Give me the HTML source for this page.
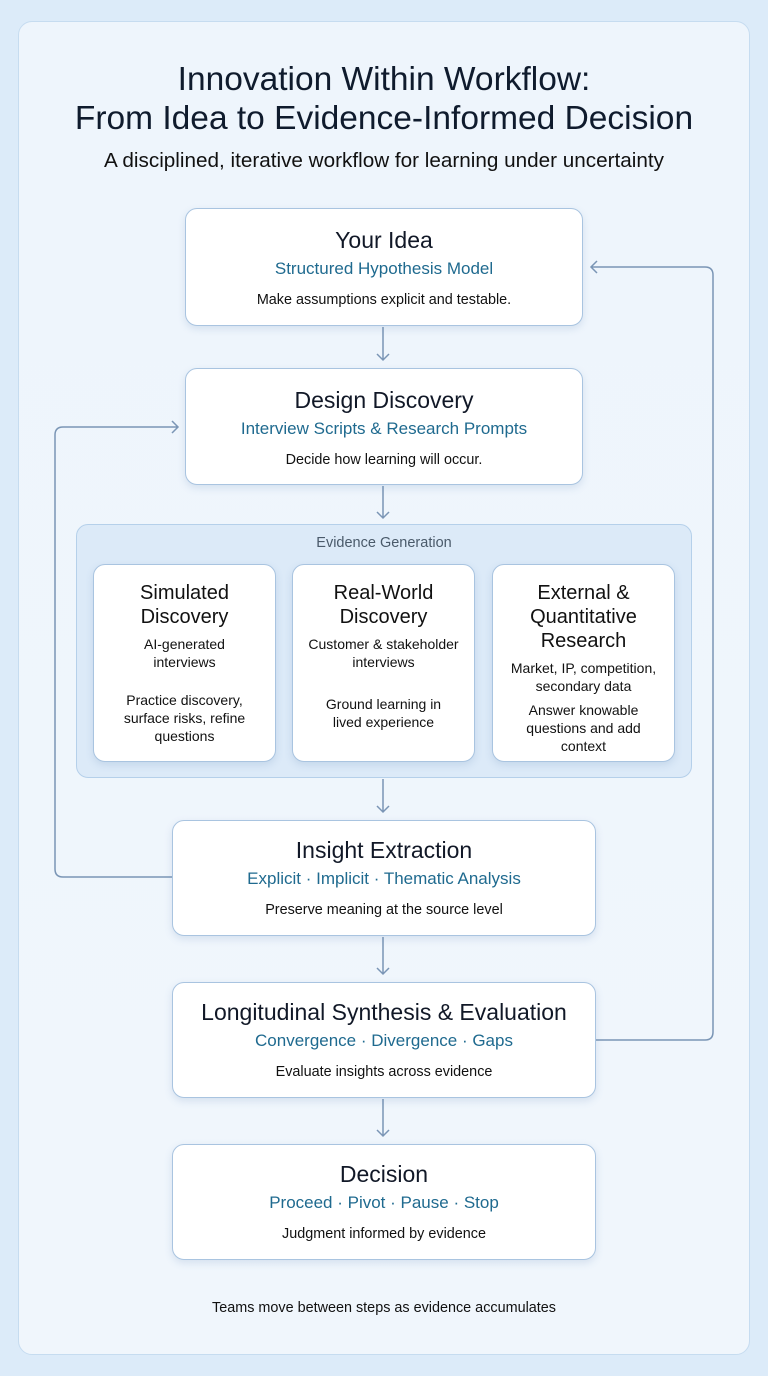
<!DOCTYPE html>
<html><head><meta charset="utf-8"><style>
*{margin:0;padding:0;box-sizing:border-box}
body{width:768px;height:1376px;background:#dcebf9;font-family:"Liberation Sans",sans-serif;position:relative;overflow:hidden;color:#111827}
.card{position:absolute;left:18px;top:21px;width:732px;height:1334px;border-radius:14px;background:linear-gradient(#eef5fc,#f0f6fc);border:1px solid #c6dcf0}
.t{position:absolute;left:0;width:768px;text-align:center}
.box{position:absolute;background:#fff;border:1.5px solid #a9c4e0;border-radius:12px;box-shadow:0 3px 8px rgba(90,130,180,.18);text-align:center}
.box h2{font-weight:normal;font-size:23px;line-height:26px;color:#111827}
.box .s{font-size:17px;color:#1f6a8f}
.box .d{font-size:14.4px;color:#111}
.sb h3{font-weight:normal;font-size:20px;line-height:24px;color:#111}
.sb p{font-size:14px;line-height:18px;color:#111}
</style></head><body>
<div class="card"></div>
<div class="t" style="top:60px;font-size:33.5px;line-height:39px;color:#0f1b2d">Innovation Within Workflow:<br>From Idea to Evidence-Informed Decision</div>
<div class="t" style="top:149px;font-size:20.7px;color:#111">A disciplined, iterative workflow for learning under uncertainty</div>

<div style="position:absolute;left:76px;top:524px;width:616px;height:254px;background:#dceaf8;border:1.5px solid #b5d0ea;border-radius:12px"></div>
<div class="t" style="top:535px;font-size:14.5px;color:#4a5a6a">Evidence Generation</div>

<svg width="768" height="1376" style="position:absolute;left:0;top:0" fill="none" stroke="#7a95b5" stroke-width="1.5">
<path d="M383 327V360M377 354l6 6 6-6"/>
<path d="M383 486V518M377 512l6 6 6-6"/>
<path d="M383 779V812M377 806l6 6 6-6"/>
<path d="M383 937V974M377 968l6 6 6-6"/>
<path d="M383 1099V1136M377 1130l6 6 6-6"/>
<path d="M172 877H63q-8 0-8-8V435q0-8 8-8H178M172 421l6 6-6 6"/>
<path d="M596 1040H705q8 0 8-8V275q0-8-8-8H591M597 261l-6 6 6 6"/>
</svg>

<div class="box" style="left:185px;top:208px;width:398px;height:118px"><h2 style="margin-top:18px">Your Idea</h2><div class="s" style="margin-top:6px">Structured Hypothesis Model</div><div class="d" style="margin-top:13px">Make assumptions explicit and testable.</div></div>
<div class="box" style="left:185px;top:368px;width:398px;height:117px"><h2 style="margin-top:18px">Design Discovery</h2><div class="s" style="margin-top:6px">Interview Scripts &amp; Research Prompts</div><div class="d" style="margin-top:13px">Decide how learning will occur.</div></div>

<div class="box sb" style="left:93px;top:564px;width:183px;height:198px"><h3 style="margin-top:16px">Simulated<br>Discovery</h3><p style="margin-top:6px">AI-generated<br>interviews</p><p style="margin-top:20px">Practice discovery,<br>surface risks, refine<br>questions</p></div>
<div class="box sb" style="left:292px;top:564px;width:183px;height:198px"><h3 style="margin-top:16px">Real-World<br>Discovery</h3><p style="margin-top:6px">Customer &amp; stakeholder<br>interviews</p><p style="margin-top:24px">Ground learning in<br>lived experience</p></div>
<div class="box sb" style="left:492px;top:564px;width:183px;height:198px"><h3 style="margin-top:16px">External &amp;<br>Quantitative<br>Research</h3><p style="margin-top:6px">Market, IP, competition,<br>secondary data</p><p style="margin-top:6px">Answer knowable<br>questions and add<br>context</p></div>

<div class="box" style="left:172px;top:820px;width:424px;height:116px"><h2 style="margin-top:16px">Insight Extraction</h2><div class="s" style="margin-top:6px">Explicit · Implicit · Thematic Analysis</div><div class="d" style="margin-top:13px">Preserve meaning at the source level</div></div>
<div class="box" style="left:172px;top:982px;width:424px;height:116px"><h2 style="margin-top:16px">Longitudinal Synthesis &amp; Evaluation</h2><div class="s" style="margin-top:6px">Convergence · Divergence · Gaps</div><div class="d" style="margin-top:13px">Evaluate insights across evidence</div></div>
<div class="box" style="left:172px;top:1144px;width:424px;height:116px"><h2 style="margin-top:16px">Decision</h2><div class="s" style="margin-top:6px">Proceed · Pivot · Pause · Stop</div><div class="d" style="margin-top:13px">Judgment informed by evidence</div></div>

<div class="t" style="top:1300px;font-size:14.4px;color:#111">Teams move between steps as evidence accumulates</div>
</body></html>
